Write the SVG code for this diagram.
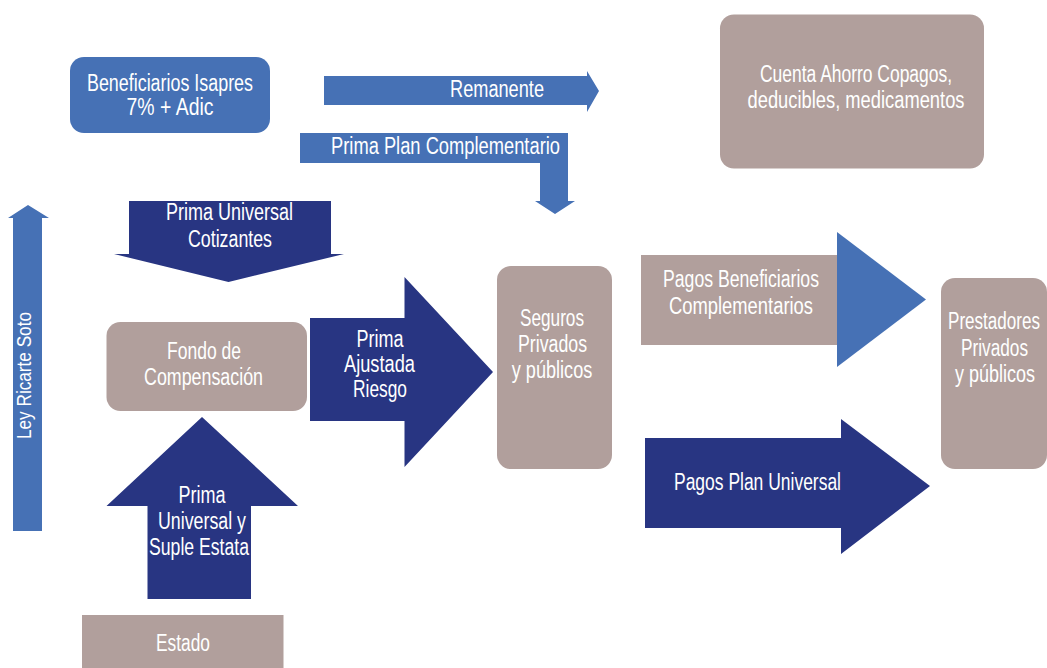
<svg xmlns="http://www.w3.org/2000/svg" width="1047" height="668" viewBox="0 0 1047 668">
<style>
.blue{fill:#4671b5}
.navy{fill:#283582}
.taupe{fill:#b19f9c}
.t{font-family:"Liberation Sans",Arial,sans-serif;font-size:23px;fill:#ffffff;text-anchor:middle}
</style>
<rect width="1047" height="668" fill="#ffffff"/>

<g id="connectors">
  <g id="arrow-remanente">
    <polygon class="blue" points="324,76 587,76 587,71 599,91 587,112 587,105 324,105"/>
    <text class="t" x="497" y="97" textLength="94" lengthAdjust="spacingAndGlyphs">Remanente</text>
  </g>
  <g id="arrow-prima-plan-complementario">
    <polygon class="blue" points="300,133 568,133 568,201 575,201 555,214 535,201 540,201 540,163 300,163"/>
    <text class="t" x="445.5" y="154" textLength="229" lengthAdjust="spacingAndGlyphs">Prima Plan Complementario</text>
  </g>
  <g id="arrow-prima-universal-cotizantes">
    <polygon class="navy" points="129,201 331,201 331,254 344,254 228.5,282 114,254 129,254"/>
    <text class="t" x="229.5" y="220" textLength="127" lengthAdjust="spacingAndGlyphs">Prima Universal</text>
    <text class="t" x="230" y="247" textLength="84" lengthAdjust="spacingAndGlyphs">Cotizantes</text>
  </g>
  <g id="arrow-ley-ricarte-soto">
    <polygon class="blue" points="13,531 13,218 8,218 28,205 49,218 42,218 42,531"/>
    <text class="t" transform="translate(30.5,375.5) rotate(-90)" x="0" y="0" style="font-size:21px" textLength="127" lengthAdjust="spacingAndGlyphs">Ley Ricarte Soto</text>
  </g>
  <g id="arrow-prima-ajustada">
    <polygon class="navy" points="310,318 404.5,318 404.5,277 493,372 404.5,467 404.5,421 310,421"/>
    <text class="t" x="380" y="347" textLength="47" lengthAdjust="spacingAndGlyphs">Prima</text>
    <text class="t" x="379.5" y="372" textLength="71" lengthAdjust="spacingAndGlyphs">Ajustada</text>
    <text class="t" x="380" y="397" textLength="54" lengthAdjust="spacingAndGlyphs">Riesgo</text>
  </g>
  <g id="arrow-prima-universal-estatal">
    <polygon class="navy" points="147.5,599 147.5,506 106.5,506 202,417 298,506 251,506 251,599"/>
    <text class="t" x="202" y="503" textLength="47" lengthAdjust="spacingAndGlyphs">Prima</text>
    <text class="t" x="202" y="529" textLength="88" lengthAdjust="spacingAndGlyphs">Universal y</text>
    <text class="t" x="199" y="555" textLength="100" lengthAdjust="spacingAndGlyphs">Suple Estata</text>
  </g>
  <g id="arrow-pagos-beneficiarios">
    <rect class="taupe" x="641" y="255" width="196.5" height="90"/>
    <polygon class="blue" points="837,232 926,299.5 837,367"/>
    <text class="t" x="741" y="287" textLength="156" lengthAdjust="spacingAndGlyphs">Pagos Beneficiarios</text>
    <text class="t" x="741" y="314" textLength="144" lengthAdjust="spacingAndGlyphs">Complementarios</text>
  </g>
  <g id="arrow-pagos-plan-universal">
    <polygon class="navy" points="645,438 841,438 841,419 930,486 841,554 841,528 645,528"/>
    <text class="t" x="757.5" y="490" textLength="167" lengthAdjust="spacingAndGlyphs">Pagos Plan Universal</text>
  </g>
</g>

<g id="node-beneficiarios">
  <rect class="blue" x="70" y="57" width="200" height="76" rx="14"/>
  <text class="t" x="170" y="91" textLength="166" lengthAdjust="spacingAndGlyphs">Beneficiarios Isapres</text>
  <text class="t" x="170" y="115" textLength="87" lengthAdjust="spacingAndGlyphs">7% + Adic</text>
</g>

<g id="node-cuenta-ahorro">
  <rect class="taupe" x="720" y="14.5" width="264" height="154" rx="14"/>
  <text class="t" x="856" y="82" textLength="192" lengthAdjust="spacingAndGlyphs">Cuenta Ahorro Copagos,</text>
  <text class="t" x="856" y="108" textLength="217" lengthAdjust="spacingAndGlyphs">deducibles, medicamentos</text>
</g>

<g id="node-fondo">
  <rect class="taupe" x="106.5" y="322" width="200.5" height="89" rx="14"/>
  <text class="t" x="204" y="359" textLength="74" lengthAdjust="spacingAndGlyphs">Fondo de</text>
  <text class="t" x="203.5" y="385" textLength="119" lengthAdjust="spacingAndGlyphs">Compensación</text>
</g>

<g id="node-seguros">
  <rect class="taupe" x="497" y="266" width="115" height="203" rx="14"/>
  <text class="t" x="552" y="326" textLength="64" lengthAdjust="spacingAndGlyphs">Seguros</text>
  <text class="t" x="552.5" y="352" textLength="69" lengthAdjust="spacingAndGlyphs">Privados</text>
  <text class="t" x="552" y="378" textLength="80.5" lengthAdjust="spacingAndGlyphs">y públicos</text>
</g>

<g id="node-prestadores">
  <rect class="taupe" x="941" y="278" width="106" height="191" rx="14"/>
  <text class="t" x="994" y="329" textLength="92" lengthAdjust="spacingAndGlyphs">Prestadores</text>
  <text class="t" x="994.5" y="355.5" textLength="67" lengthAdjust="spacingAndGlyphs">Privados</text>
  <text class="t" x="995" y="381.5" textLength="80" lengthAdjust="spacingAndGlyphs">y públicos</text>
</g>

<g id="node-estado">
  <rect class="taupe" x="82" y="615" width="201.5" height="53"/>
  <text class="t" x="183" y="651" textLength="54" lengthAdjust="spacingAndGlyphs">Estado</text>
</g>
</svg>
